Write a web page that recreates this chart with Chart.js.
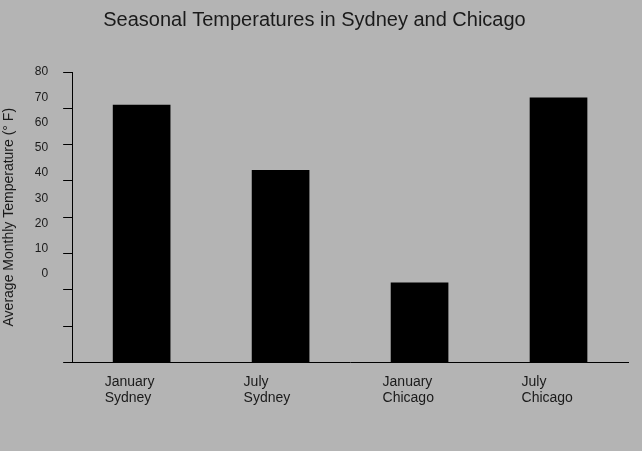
<!DOCTYPE html>
<html>
<head>
<meta charset="utf-8">
<script src="https://cdn.jsdelivr.net/npm/chart.js@4.4.1/dist/chart.umd.min.js"></script>
<style>
    body { margin: 0; background: #b4b4b4; }
    canvas { display: block; }
</style>
</head>
<body>
<canvas id="myChart" width="642" height="451"></canvas>
<script>
const months = ["January", "July", "January", "July"];
const cities = ["Sydney", "Sydney", "Chicago", "Chicago"];
const temps = [71, 53, 22, 73];
const yTicks = [0, 10, 20, 30, 40, 50, 60, 70, 80];

const textColor = "#1a1a1a";
const fontFamily = "Arial, 'Liberation Sans', sans-serif";

const labels = months.map((m, i) => [m, cities[i]]);

const data = {
    labels: labels,
    datasets: [
        {
            label: "Average Monthly Temperature",
            data: temps,
            backgroundColor: "#000000",
            borderWidth: 0,
            categoryPercentage: 1,
            barPercentage: 0.415,
            yAxisID: "y",
        },
    ],
};

const config = {
    type: "bar",
    data: data,
    options: {
        responsive: false,
        animation: false,
        layout: {
            padding: { left: 1, right: 14, top: 0, bottom: 41 },
        },
        plugins: {
            legend: { display: false },
            tooltip: { enabled: false },
            title: {
                display: true,
                text: "Seasonal Temperatures in Sydney and Chicago",
                color: textColor,
                font: { family: fontFamily, size: 20, weight: "normal" },
                padding: { top: 8, bottom: 40 },
            },
        },
        scales: {
            x: {
                grid: { display: false },
                border: { display: true, color: "#000", width: 1 },
                ticks: {
                    color: textColor,
                    font: { family: fontFamily, size: 14 },
                    align: "start",
                    labelOffset: -37,
                    padding: 3,
                    maxRotation: 0,
                },
            },
            // tick marks only, labels come from the outer axis
            y: {
                position: "left",
                min: 0,
                max: 80,
                grid: { drawOnChartArea: false, drawTicks: true, tickLength: 9, color: "#000" },
                border: { display: true, color: "#000", width: 1 },
                ticks: { stepSize: 10, display: false },
            },
            // the original's tick labels are squeezed and don't line up with the tick marks
            yl: {
                position: "left",
                weight: 1,
                min: -35,
                max: 80,
                afterBuildTicks: (scale) => {
                    scale.ticks = yTicks.map((v) => ({ value: v }));
                },
                grid: { display: false, drawTicks: false },
                border: { display: false },
                ticks: {
                    color: textColor,
                    font: { family: fontFamily, size: 12 },
                    padding: 15,
                },
                title: {
                    display: true,
                    text: "Average Monthly Temperature (° F)",
                    color: textColor,
                    font: { family: fontFamily, size: 14 },
                    padding: { top: 0, bottom: 2 },
                },
            },
        },
    },
};

const myChart = new Chart(document.getElementById("myChart"), config);
</script>
</body>
</html>
